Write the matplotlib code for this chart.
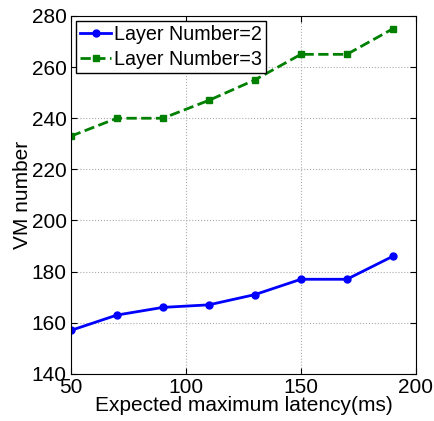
import matplotlib
matplotlib.use("Agg")
import matplotlib.pyplot as plt

# Data
latency = [50, 70, 90, 110, 130, 150, 170, 190]
vm_layer2 = [157, 163, 166, 167, 171, 177, 177, 186]
vm_layer3 = [233, 240, 240, 247, 255, 265, 265, 275]

plt.rcParams['font.family'] = ['Liberation Sans', 'DejaVu Sans']

fig = plt.figure(figsize=(4.35, 4.21), dpi=100)
ax = fig.add_axes([0.163, 0.112, 0.793, 0.850])

ax.plot(latency, vm_layer2, '-o', color='blue', lw=2, ms=5, label='Layer Number=2')
ax.plot(latency, vm_layer3, '--s', color='green', lw=2, ms=4.5, label='Layer Number=3')

ax.set_xlim(50, 200)
ax.set_ylim(140, 280)
ax.set_xticks([50, 100, 150, 200])
ax.set_yticks(range(140, 281, 20))
ax.tick_params(direction='in', labelsize=15, top=True, right=True, length=4, pad=3)
ax.grid(True, linestyle=':', color='#aaaaaa', lw=0.8)

ax.set_xlabel('Expected maximum latency(ms)', fontsize=15, labelpad=-1)
ax.set_ylabel('VM number', fontsize=15, labelpad=0)

leg = ax.legend(loc='upper left', fontsize=14.2, fancybox=False, framealpha=1,
                edgecolor='black', borderaxespad=0.25, handlelength=1.6,
                borderpad=0.2, labelspacing=0.3, handletextpad=0.15)
leg.get_frame().set_linewidth(1)

fig.savefig('out.png', dpi=100)
